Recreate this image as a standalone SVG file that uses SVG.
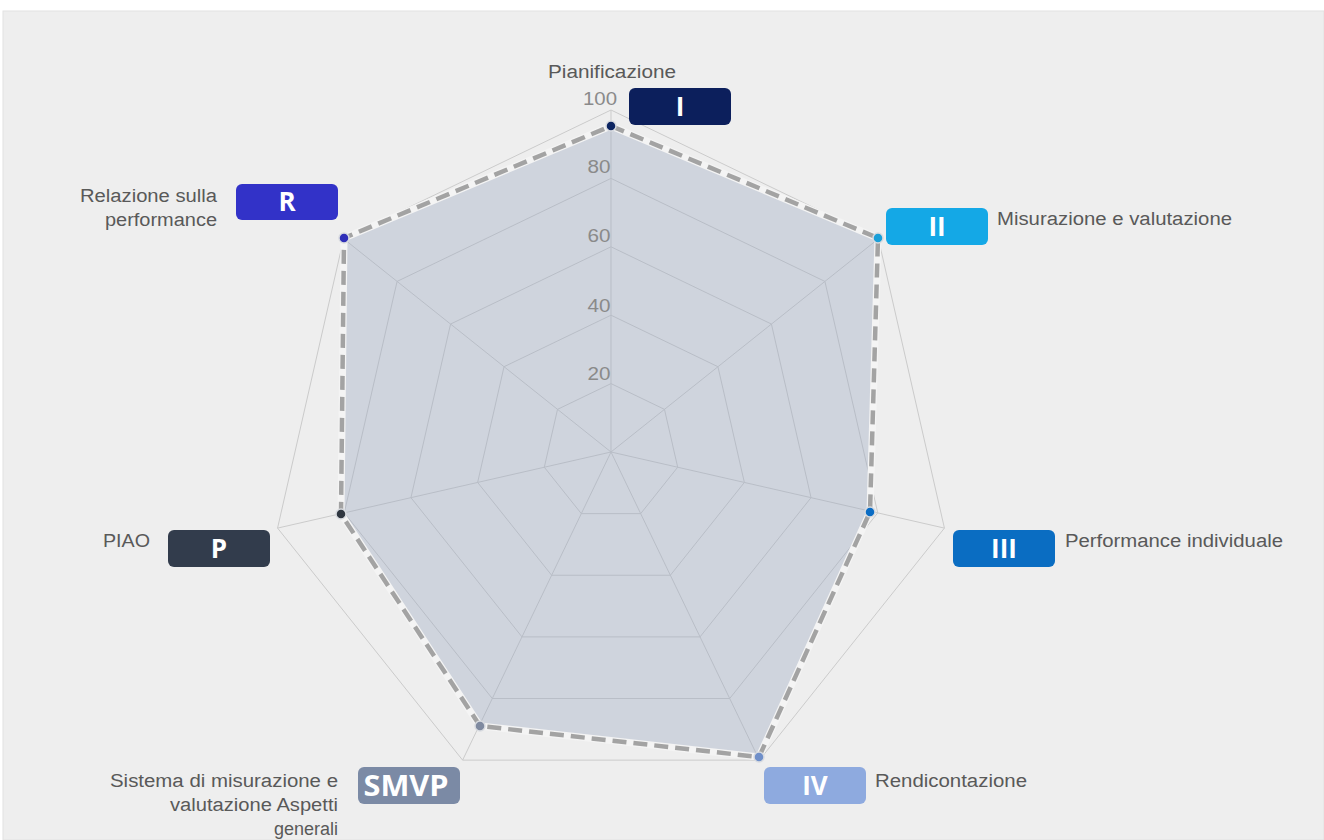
<svg xmlns="http://www.w3.org/2000/svg" width="1324" height="840" viewBox="0 0 1324 840">
<style>
.grid{fill:none;stroke:#cbcbcb;stroke-width:1}
.spoke{stroke:#cbcbcb;stroke-width:1}
.tick{font-family:"Liberation Sans",Arial,sans-serif;font-size:18px;fill:#8a8a8a;text-anchor:middle}
.lbl{font-family:"Liberation Sans",Arial,sans-serif;font-size:18px;fill:#595959}
.r{text-anchor:end}
.badge-t{font-family:"Open Sans","DejaVu Sans",sans-serif;font-size:26px;font-weight:bold;fill:#ffffff;text-anchor:middle}
.pt{stroke:#d8dbe0;stroke-width:1.5}
</style>
<rect x="0" y="0" width="1324" height="840" fill="#ffffff"/>
<rect x="3" y="11" width="1321" height="829" fill="#eeeeee" stroke="#e2e2e2" stroke-width="1"/>

<g id="chart-grid">
<polygon class="grid" points="611,110 878.39,238.77 944.43,528.10 759.39,760.13 462.61,760.13 277.57,528.10 343.61,238.77"/>
<polygon class="grid" points="611,178.4 824.91,281.41 877.74,512.88 729.71,698.51 492.29,698.51 344.26,512.88 397.09,281.41"/>
<polygon class="grid" points="611,246.8 771.43,324.06 811.06,497.66 700.03,636.88 521.97,636.88 410.94,497.66 450.57,324.06"/>
<polygon class="grid" points="611,315.2 717.95,366.71 744.37,482.44 670.35,575.25 551.65,575.25 477.63,482.44 504.05,366.71"/>
<polygon class="grid" points="611,383.6 664.48,409.35 677.69,467.22 640.68,513.63 581.32,513.63 544.31,467.22 557.52,409.35"/>
<line class="spoke" x1="611" y1="452" x2="611" y2="110"/>
<line class="spoke" x1="611" y1="452" x2="878.39" y2="238.77"/>
<line class="spoke" x1="611" y1="452" x2="944.43" y2="528.10"/>
<line class="spoke" x1="611" y1="452" x2="759.39" y2="760.13"/>
<line class="spoke" x1="611" y1="452" x2="462.61" y2="760.13"/>
<line class="spoke" x1="611" y1="452" x2="277.57" y2="528.10"/>
<line class="spoke" x1="611" y1="452" x2="343.61" y2="238.77"/>
</g>

<g id="data-series">
<polygon points="611,126 878,238 870,512 759,757 480,726 341,514 344,238" fill="#98a6be" fill-opacity="0.36" stroke="#f4f4f4" stroke-width="7" stroke-linejoin="round"/>
<polygon points="611,126 878,238 870,512 759,757 480,726 341,514 344,238" fill="none" stroke="#a3a3a3" stroke-width="4.5" stroke-dasharray="14,7" stroke-linejoin="round"/>
</g>

<g id="ticks">
<text class="tick" x="599" y="380" textLength="23" lengthAdjust="spacingAndGlyphs">20</text>
<text class="tick" x="599" y="312" textLength="23" lengthAdjust="spacingAndGlyphs">40</text>
<text class="tick" x="599" y="242" textLength="23" lengthAdjust="spacingAndGlyphs">60</text>
<text class="tick" x="599" y="173" textLength="23" lengthAdjust="spacingAndGlyphs">80</text>
<text class="tick" x="600" y="105" textLength="34" lengthAdjust="spacingAndGlyphs">100</text>
</g>

<g id="node-I">
<circle class="pt" cx="611" cy="126" r="5" fill="#0c2461"/>
<rect x="629" y="88" width="102" height="37" rx="6" fill="#0c1f5c"/>
<text class="badge-t" x="680" y="116">I</text>
<text class="lbl" x="548" y="78" textLength="128" lengthAdjust="spacingAndGlyphs">Pianificazione</text>
</g>

<g id="node-II">
<circle class="pt" cx="878" cy="238" r="5" fill="#1a9fd8"/>
<rect x="886" y="208" width="102" height="37" rx="6" fill="#14a8e6"/>
<text class="badge-t" x="937" y="236">II</text>
<text class="lbl" x="997" y="225" textLength="235" lengthAdjust="spacingAndGlyphs">Misurazione e valutazione</text>
</g>

<g id="node-III">
<circle class="pt" cx="870" cy="512" r="5" fill="#0a6cc4"/>
<rect x="953" y="530" width="102" height="37" rx="6" fill="#0a6dc2"/>
<text class="badge-t" x="1004" y="558">III</text>
<text class="lbl" x="1065" y="547" textLength="218" lengthAdjust="spacingAndGlyphs">Performance individuale</text>
</g>

<g id="node-IV">
<circle class="pt" cx="759" cy="757" r="5" fill="#6f8fc9"/>
<rect x="764" y="767" width="102" height="37" rx="6" fill="#8eaadf"/>
<text class="badge-t" x="815" y="795">IV</text>
<text class="lbl" x="875" y="787" textLength="152" lengthAdjust="spacingAndGlyphs">Rendicontazione</text>
</g>

<g id="node-SMVP">
<circle class="pt" cx="480" cy="726" r="5" fill="#7f8aa0"/>
<rect x="358" y="767" width="102" height="37" rx="6" fill="#7b8aa5"/>
<text class="badge-t" x="406" y="796" textLength="85" lengthAdjust="spacingAndGlyphs" style="font-size:28px">SMVP</text>
<text class="lbl" x="110" y="787" textLength="228" lengthAdjust="spacingAndGlyphs">Sistema di misurazione e</text>
<text class="lbl" x="170" y="811" textLength="168" lengthAdjust="spacingAndGlyphs">valutazione Aspetti</text>
<text class="lbl r" x="338" y="835">generali</text>
</g>

<g id="node-P">
<circle class="pt" cx="341" cy="514" r="5" fill="#2f3640"/>
<rect x="168" y="530" width="102" height="37" rx="6" fill="#323c4c"/>
<text class="badge-t" x="219" y="558">P</text>
<text class="lbl" x="103" y="547" textLength="47" lengthAdjust="spacingAndGlyphs">PIAO</text>
</g>

<g id="node-R">
<circle class="pt" cx="344" cy="238" r="5" fill="#2f2fb8"/>
<rect x="236" y="184" width="102" height="36" rx="6" fill="#3232c8"/>
<text class="badge-t" x="287" y="211">R</text>
<text class="lbl" x="80" y="202" textLength="137" lengthAdjust="spacingAndGlyphs">Relazione sulla</text>
<text class="lbl" x="105" y="226" textLength="112" lengthAdjust="spacingAndGlyphs">performance</text>
</g>
</svg>
